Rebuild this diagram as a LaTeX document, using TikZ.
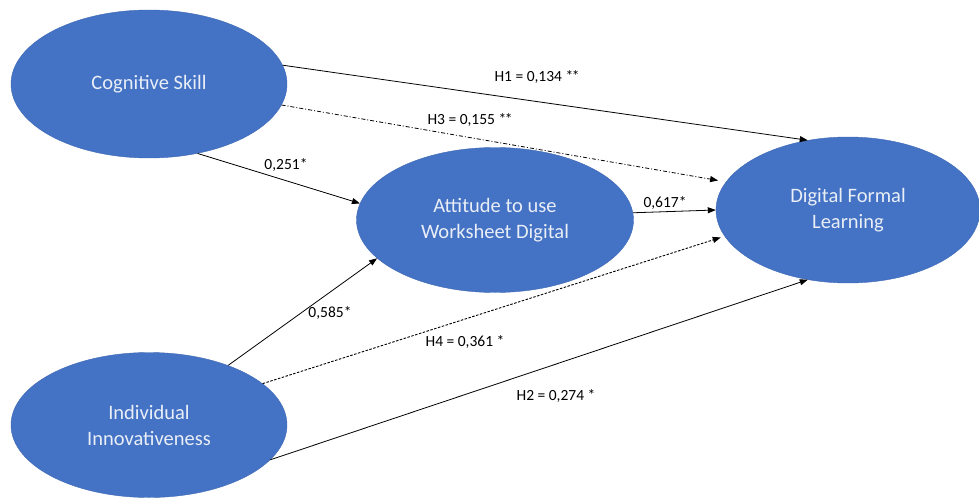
\documentclass[tikz,border=0pt]{standalone}
\usepackage{fontspec}
\setmainfont{Carlito}
\usepackage{xcolor}
\usetikzlibrary{arrows.meta, positioning, calc, shapes.geometric}
\definecolor{latentblue}{HTML}{4472C4}
\definecolor{latenttext}{HTML}{E9EEF7}
\newcommand{\twostar}{*\kern-1.5pt*}

\begin{document}
\begin{tikzpicture}[>={Triangle[length=8pt, width=6pt]}, x=1pt, y=-1pt,
    construct/.style={ellipse, fill=latentblue, draw=latentblue!92!black, line width=0.4pt,
      inner sep=0pt, minimum width=276pt, minimum height=148pt, text=latenttext,
      align=center, font=\fontsize{20.5}{26}\selectfont},
    effect/.style={->, line width=0.8pt},
    coef/.style={font=\fontsize{15.5}{18}\selectfont, inner sep=1pt}]
        \useasboundingbox (0,0) rectangle (979,500);
        % Constructs
        \node [construct] (cs) at (149,84) {Cognitive Skill};
        \node [construct, minimum width=277pt, minimum height=145pt] (att) at (495,220) {Attitude to use\\Worksheet Digital};
        \node [construct, minimum width=264pt, minimum height=146pt] (dfl) at (848,210) {Digital Formal\\Learning};
        \node [construct, minimum height=145pt] (ii) at (149,425) {Individual\\Innovativeness};
        % Direct paths to the outcome
        \draw [effect] (cs.8.8) -- (dfl.120.5);
        \draw [effect] (ii.-16.3) -- (dfl.-120.3);
        % Indirect paths (mediated)
        \draw [effect, dash pattern=on 4pt off 2pt on 1pt off 2pt, shorten >=8pt] (cs.-9.8) -- (dfl.167);
        \draw [effect, line width=0.9pt, dash pattern=on 2.5pt off 1.5pt, shorten >=4pt] (ii.20.6) -- (dfl.-168.7);
        % Paths through the attitude
        \draw [effect] (cs.-55.6) -- (att.173.8);
        \draw [effect] (ii.37.7) -- (att.-162.7);
        \draw [effect] (att.3) -- (dfl.west);
        % Coefficients
        \node [coef] (h1) at (537,77) {H1 = 0,134 \twostar};
        \node [coef] (h3) at (470,120) {H3 = 0,155 \twostar};
        \node [coef] (b1) at (286,165) {0,251*};
        \node [coef] (b2) at (665,203) {0,617*};
        \node [coef] (b3) at (330,313) {0,585*};
        \node [coef] (h4) at (465,342) {H4 = 0,361 *};
        \node [coef] (h2) at (556,396) {H2 = 0,274 *};
    \end{tikzpicture}
\end{document}
